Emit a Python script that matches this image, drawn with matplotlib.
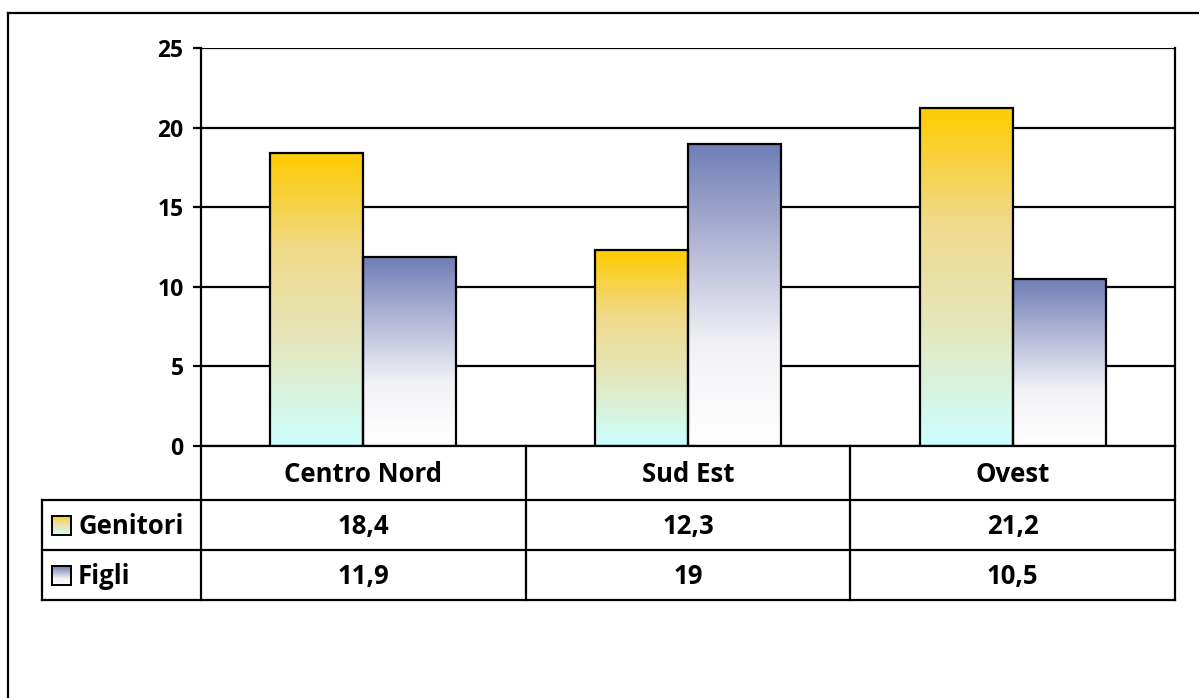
import numpy as np
import matplotlib
matplotlib.use("Agg")
import matplotlib.pyplot as plt
from matplotlib.colors import LinearSegmentedColormap
from matplotlib.lines import Line2D

categories = ["Centro Nord", "Sud Est", "Ovest"]
series_names = ["Genitori", "Figli"]
genitori = [18.4, 12.3, 21.2]
figli = [11.9, 19.0, 10.5]
table_text = {
    "Genitori": ["18,4", "12,3", "21,2"],
    "Figli": ["11,9", "19", "10,5"],
}
y_ticks = [0, 5, 10, 15, 20, 25]

W, H = 1199, 698
plt.rcParams["font.family"] = ["Open Sans", "DejaVu Sans"]
fig = plt.figure(figsize=(W / 100, H / 100), dpi=100)
TICK_SIZE = 16.5
TABLE_SIZE = 18.5
TABLE_FONT = dict(fontsize=TABLE_SIZE, fontweight="bold", color="black")
# half the cap height in pixels, used to centre text on its baseline
TABLE_HALF_CAP = 0.714 * TABLE_SIZE * 100 / 72 / 2

def px(x, y):
    return x / W, 1 - y / H

# outer chart frame
fig.add_artist(Line2D([8 / W, 8 / W], [0, 1 - 13 / H], color="black", lw=1.6,
                      transform=fig.transFigure))
fig.add_artist(Line2D([8 / W, 1], [1 - 13 / H, 1 - 13 / H], color="black", lw=1.6,
                      transform=fig.transFigure))

left, right, top, bottom = 201, 1175, 48, 446
ax = fig.add_axes([left / W, 1 - bottom / H, (right - left) / W, (bottom - top) / H])
ax.set_xlim(-0.5, len(categories) - 0.5)
ax.set_ylim(0, 25)
ax.set_yticks(y_ticks)
ax.tick_params(axis="y", length=6, width=1.6, pad=6.5, labelsize=TICK_SIZE)
ax.set_yticklabels([str(t) for t in y_ticks])
for lab in ax.get_yticklabels():
    lab.set_fontweight("bold")
    lab.set_fontsize(TICK_SIZE)
    lab.set_verticalalignment("center_baseline")
ax.set_xticks([])
ax.yaxis.grid(True, color="black", lw=1.6)
ax.set_axisbelow(True)
for s in ax.spines.values():
    s.set_linewidth(1.6)
ax.spines["top"].set_visible(False)

cmap_gen = LinearSegmentedColormap.from_list("gen", ["#CCFFFF", "#E3E8C0", "#F0D98A", "#FFCC00"])
cmap_fig = LinearSegmentedColormap.from_list("fig", ["#FFFFFF", "#F2F2F6", "#B3B7D6", "#6E7DB5"])

x = np.arange(len(categories))
bw = 93 / 325
grad = np.linspace(0, 1, 256).reshape(-1, 1)
for vals, offset, cmap in [(genitori, -bw / 2, cmap_gen), (figli, bw / 2, cmap_fig)]:
    bars = ax.bar(x + offset, vals, width=bw, facecolor="none", edgecolor="black",
                  linewidth=1.6, zorder=3)
    for b in bars:
        x0, y0 = b.get_x(), b.get_y()
        w, h = b.get_width(), b.get_height()
        im = ax.imshow(grad, cmap=cmap, origin="lower", aspect="auto",
                       extent=[x0, x0 + w, y0, y0 + h], zorder=2)
        im.set_clip_path(b)

# data table below the plot
def hline(y, x0, x1):
    fig.add_artist(Line2D([x0 / W, x1 / W], [1 - y / H, 1 - y / H], color="black",
                          lw=1.6, transform=fig.transFigure))

def vline(xp, y0, y1):
    fig.add_artist(Line2D([xp / W, xp / W], [1 - y0 / H, 1 - y1 / H], color="black",
                          lw=1.6, transform=fig.transFigure))

def cell_text(xc, yc, s, ha="center"):
    fig.text(*px(xc, yc + TABLE_HALF_CAP), s, ha=ha, va="baseline", **TABLE_FONT)

row_y = [446, 500, 550, 600]
tab_left = 42
for y in row_y[1:]:
    hline(y, tab_left, right)
vline(tab_left, row_y[1], row_y[3])
col_edges = [left + (right - left) * i / len(categories) for i in range(len(categories) + 1)]
for xe in col_edges:
    vline(xe, row_y[0], row_y[3])

for i, c in enumerate(categories):
    xc = (col_edges[i] + col_edges[i + 1]) / 2
    cell_text(xc, (row_y[0] + row_y[1]) / 2, c)
for r, name in enumerate(series_names):
    yc = (row_y[r + 1] + row_y[r + 2]) / 2
    for i in range(len(categories)):
        xc = (col_edges[i] + col_edges[i + 1]) / 2
        cell_text(xc, yc, table_text[name][i])
    cmap = cmap_gen if r == 0 else cmap_fig
    kx, ks = 52, 19
    ky = yc - ks / 2
    kax = fig.add_axes([kx / W, 1 - (ky + ks) / H, ks / W, ks / H])
    kax.imshow(grad, cmap=cmap, origin="lower", aspect="auto", extent=[0, 1, 0, 1])
    kax.set_xticks([]); kax.set_yticks([])
    for s in kax.spines.values():
        s.set_linewidth(1.4)
    cell_text(kx + ks + 7, yc, name, ha="left")

fig.savefig("out.png", dpi=100)
